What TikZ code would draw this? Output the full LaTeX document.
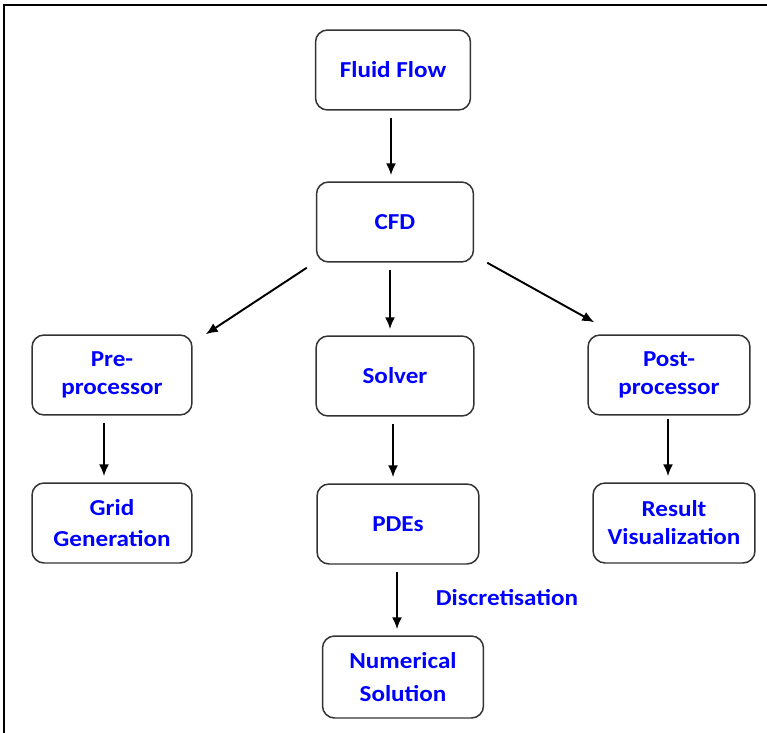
\documentclass[tikz,border=0pt]{standalone}
\usepackage{fontspec}
\setmainfont{Carlito}[FakeStretch=1.1]
\usetikzlibrary{arrows.meta,positioning,calc}

\begin{document}
\begin{tikzpicture}[x=0.02cm,y=-0.02cm,
    box/.style={draw=black!80,line width=0.85pt,rounded corners=0.24cm,minimum width=3.2cm,minimum height=1.6cm,align=center,text=blue,font=\bfseries\fontsize{13}{16}\selectfont},
    arr/.style={-{Latex[length=2.4mm,width=2mm]},line width=1.1pt,shorten <=0.14cm,shorten >=0.12cm}]
    \useasboundingbox (0,0) rectangle (767,733);
    \draw[line width=1.4pt] (4,733) -- (4,5) -- (767,5);
    % top of the tree
    \node[box,minimum width=3.1cm] (flow) at (393,70) {Fluid Flow};
    \node[box,minimum width=3.14cm] (cfd) at (395,222) {CFD};
    % three branches
    \node[box] (pre) at (112,375) {Pre-\\processor};
    \node[box,minimum width=3.16cm] (solver) at (395,376) {Solver};
    \node[box,minimum width=3.24cm] (post) at (669,375) {Post-\\processor};
    \node[box] (grid) at (112,523) {Grid\\[2pt]Generation};
    \node[box,minimum width=3.24cm] (pdes) at (398,524) {PDEs};
    \node[box,minimum width=3.24cm] (result) at (674,523) {Result\\Visualization};
    \node[box,minimum width=3.22cm,minimum height=1.64cm] (num) at (403,677) {Numerical\\[3pt]Solution};
    \node[text=blue,font=\bfseries\fontsize{13}{16}\selectfont] (disc) at (507,598) {Discretisation};
    \draw[arr] ([xshift=-0.04cm]flow.south) -- ([xshift=-0.04cm]flow.south |- cfd.north);
    \draw[arr] ([xshift=-0.1cm]cfd.south) -- ([xshift=-0.1cm]cfd.south |- solver.north);
    \draw[arr,shorten <=0pt,shorten >=0pt] ([xshift=-0.18cm,yshift=-0.1cm]cfd.south west) -- ([xshift=0.26cm]pre.north east);
    \draw[arr,shorten <=0pt,shorten >=0pt] ([xshift=0.26cm]cfd.south east) -- ([xshift=0.14cm,yshift=0.24cm]post.north west);
    \draw[arr] ([xshift=-0.16cm]pre.south) -- ([xshift=-0.16cm]pre.south |- grid.north);
    \draw[arr] ([xshift=-0.04cm]solver.south) -- ([xshift=-0.04cm]solver.south |- pdes.north);
    \draw[arr,shorten <=0.06cm] ([xshift=-0.02cm]post.south) -- ([xshift=-0.02cm]post.south |- result.north);
    \draw[arr] ([xshift=-0.02cm]pdes.south) -- ([xshift=-0.02cm]pdes.south |- num.north);
\end{tikzpicture}
\end{document}
